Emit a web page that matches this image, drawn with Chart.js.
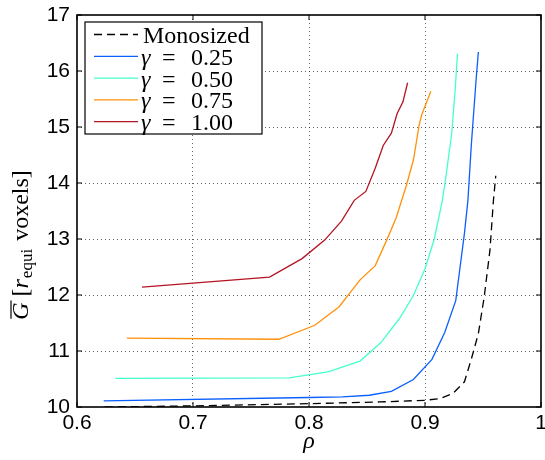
<!DOCTYPE html>
<html>
<head>
<meta charset="utf-8">
<script src="https://cdn.jsdelivr.net/npm/chart.js@4.4.1/dist/chart.umd.min.js"></script>
<style>
  body { margin: 0; background: #fff; }
  #wrap { width: 545px; height: 460px; }
</style>
</head>
<body>
<div id="wrap"><canvas id="myChart"></canvas></div>
<script>
// packing density rho vs mean G, one pair of arrays per run
const rhoMono = [0.624, 0.700, 0.800, 0.861, 0.900, 0.913, 0.924, 0.934, 0.940, 0.946, 0.951, 0.956, 0.959, 0.961];
const gMono   = [10.00, 10.02, 10.06, 10.09, 10.12, 10.15, 10.24, 10.45, 10.86, 11.31, 11.96, 12.80, 13.69, 14.13];

const rho025 = [0.623, 0.800, 0.829, 0.852, 0.871, 0.890, 0.906, 0.917, 0.9265, 0.931, 0.934, 0.937, 0.940, 0.944, 0.946];
const g025   = [10.11, 10.17, 10.18, 10.21, 10.28, 10.49, 10.85, 11.33, 11.90, 12.62, 13.10, 13.69, 14.70, 15.83, 16.34];

const rho050 = [0.633, 0.783, 0.801, 0.817, 0.844, 0.862, 0.878, 0.890, 0.900, 0.908, 0.915, 0.918, 0.923, 0.926, 0.928];
const g050   = [10.51, 10.52, 10.58, 10.63, 10.82, 11.15, 11.58, 11.99, 12.47, 13.00, 13.69, 14.11, 14.88, 15.66, 16.31];

const rho075 = [0.643, 0.774, 0.805, 0.826, 0.844, 0.857, 0.867, 0.875, 0.884, 0.890, 0.895, 0.897, 0.901, 0.905];
const g075   = [11.23, 11.21, 11.46, 11.79, 12.27, 12.52, 12.98, 13.37, 13.96, 14.41, 15.04, 15.21, 15.42, 15.64];

const rho100 = [0.656, 0.766, 0.794, 0.8135, 0.828, 0.839, 0.849, 0.857, 0.864, 0.871, 0.876, 0.881, 0.885];
const g100   = [12.14, 12.32, 12.65, 12.98, 13.32, 13.69, 13.85, 14.26, 14.67, 14.89, 15.24, 15.45, 15.79];

const seriesLabels = ['Monosized', 'γ = 0.25', 'γ = 0.50', 'γ = 0.75', 'γ = 1.00'];
const seriesColors = ['#000000', 'rgb(10,95,255)', 'rgb(70,255,205)', 'rgb(255,145,10)', 'rgb(180,20,35)'];

const xTicks = [0.6, 0.7, 0.8, 0.9, 1.0];
const yTicks = [10, 11, 12, 13, 14, 15, 16, 17];

const SERIF = '"Liberation Serif", "Times New Roman", serif';
const SANS = '"Liberation Sans", Arial, sans-serif';

function pts(xs, ys) {
  return xs.map((x, i) => ({x: x, y: ys[i]}));
}

const runs = [[rhoMono, gMono], [rho025, g025], [rho050, g050], [rho075, g075], [rho100, g100]];

const datasets = runs.map((r, i) => ({
  label: seriesLabels[i],
  data: pts(r[0], r[1]),
  borderColor: seriesColors[i],
  backgroundColor: seriesColors[i],
  borderWidth: 1.3,
  borderDash: i === 0 ? [8, 5] : [],
  pointRadius: 0,
  tension: 0,
  fill: false
}));

// box, inward ticks, legend and the y label are drawn by hand
const framePlugin = {
  id: 'frame',
  afterDatasetsDraw(chart) {
    const ctx = chart.ctx;
    const a = chart.chartArea;
    const sx = chart.scales.x, sy = chart.scales.y;
    ctx.save();
    ctx.strokeStyle = '#000';
    ctx.lineWidth = 1;
    ctx.beginPath();
    xTicks.forEach(v => {
      const px = sx.getPixelForValue(v);
      ctx.moveTo(px, a.bottom); ctx.lineTo(px, a.bottom - 5);
      ctx.moveTo(px, a.top); ctx.lineTo(px, a.top + 5);
    });
    yTicks.forEach(v => {
      const py = sy.getPixelForValue(v);
      ctx.moveTo(a.left, py); ctx.lineTo(a.left + 5, py);
      ctx.moveTo(a.right, py); ctx.lineTo(a.right - 5, py);
    });
    ctx.stroke();
    ctx.lineWidth = 1.6;
    ctx.strokeRect(a.left, a.top, a.right - a.left, a.bottom - a.top);
    ctx.restore();
  },
  afterDraw(chart) {
    const ctx = chart.ctx;
    ctx.save();

    // legend box
    const bx = 85, by = 22, bw = 177, bh = 112;
    ctx.fillStyle = '#fff';
    ctx.fillRect(bx, by, bw, bh);
    ctx.strokeStyle = '#000';
    ctx.lineWidth = 1.2;
    ctx.strokeRect(bx, by, bw, bh);

    chart.data.datasets.forEach((ds, i) => {
      const ry = 34.5 + i * 21.8;
      ctx.strokeStyle = ds.borderColor;
      ctx.lineWidth = 1.3;
      ctx.setLineDash(ds.borderDash);
      ctx.beginPath();
      ctx.moveTo(94, ry);
      ctx.lineTo(138, ry);
      ctx.stroke();
      ctx.setLineDash([]);

      ctx.fillStyle = '#000';
      ctx.textBaseline = 'alphabetic';
      ctx.textAlign = 'left';
      const base = ry + 8.5;
      if (ds.label.charAt(0) === 'γ') {
        const parts = ds.label.split(' = ');
        ctx.font = 'italic 24px ' + SERIF;
        ctx.fillText(parts[0], 141, base);
        ctx.font = '24px ' + SERIF;
        ctx.fillText('=', 162, base);
        ctx.fillText(parts[1], 191, base);
      } else {
        ctx.font = '24px ' + SERIF;
        ctx.fillText(ds.label, 143, base);
      }
    });

    // y axis title: G with overline, [r_equi voxels]
    const cx = 22, cy = 245;
    ctx.translate(cx, cy);
    ctx.rotate(-Math.PI / 2);
    ctx.textBaseline = 'middle';
    ctx.textAlign = 'left';
    const big = 24, small = 17;
    const pieces = [
      {t: 'G', f: 'italic ' + big + 'px ' + SERIF, dy: 0, gap: 6, bar: true},
      {t: '[', f: big + 'px ' + SERIF, dy: 0, gap: 0},
      {t: 'r', f: 'italic ' + big + 'px ' + SERIF, dy: 0, gap: 1},
      {t: 'equi', f: small + 'px ' + SERIF, dy: 6, gap: 8},
      {t: 'voxels]', f: big + 'px ' + SERIF, dy: 0, gap: 0}
    ];
    let total = 0;
    pieces.forEach(p => { ctx.font = p.f; p.w = ctx.measureText(p.t).width; total += p.w + p.gap; });
    let x = -total / 2;
    pieces.forEach(p => {
      ctx.font = p.f;
      ctx.fillStyle = '#000';
      ctx.fillText(p.t, x, p.dy);
      if (p.bar) {
        ctx.strokeStyle = '#000';
        ctx.lineWidth = 1.2;
        ctx.beginPath();
        ctx.moveTo(x + 1, -11);
        ctx.lineTo(x + p.w + 2, -11);
        ctx.stroke();
      }
      x += p.w + p.gap;
    });
    ctx.restore();
  }
};

const gridColor = ctx => {
  return (ctx.index === 0 || ctx.index === ctx.scale.ticks.length - 1) ? 'rgba(0,0,0,0)' : 'rgba(0,0,0,0.6)';
};

const config = {
  type: 'line',
  data: { datasets: datasets },
  options: {
    responsive: true,
    maintainAspectRatio: false,
    devicePixelRatio: 1,
    animation: false,
    layout: { padding: { top: 15, right: 4, left: 0, bottom: 0 }, autoPadding: false },
    plugins: {
      legend: { display: false },
      tooltip: { enabled: false }
    },
    scales: {
      x: {
        type: 'linear',
        min: 0.6,
        max: 1.0,
        afterBuildTicks: scale => { scale.ticks = xTicks.map(v => ({value: v})); },
        afterFit: scale => {
          scale.height = 53;
          scale.paddingLeft = 0;
          scale.paddingRight = 0;
        },
        ticks: {
          font: { family: SANS, size: 21 },
          color: '#000',
          padding: 4,
          maxRotation: 0,
          callback: v => (v === 1 ? '1' : v.toFixed(1))
        },
        grid: { color: gridColor, lineWidth: 1, drawTicks: false },
        border: { display: false, dash: [1, 3] },
        title: {
          display: true,
          text: 'ρ',
          font: { family: SERIF, size: 24, style: 'italic' },
          color: '#000',
          padding: { top: 0, bottom: 4 }
        }
      },
      y: {
        type: 'linear',
        min: 10,
        max: 17,
        afterBuildTicks: scale => { scale.ticks = yTicks.map(v => ({value: v})); },
        afterFit: scale => {
          scale.width = 77;
          scale.paddingTop = 0;
          scale.paddingBottom = 0;
        },
        ticks: {
          font: { family: SANS, size: 21 },
          color: '#000',
          padding: 7
        },
        grid: { color: gridColor, lineWidth: 1, drawTicks: false },
        border: { display: false, dash: [1, 3] }
      }
    }
  },
  plugins: [framePlugin]
};

const myChart = new Chart(document.getElementById('myChart'), config);
</script>
</body>
</html>
